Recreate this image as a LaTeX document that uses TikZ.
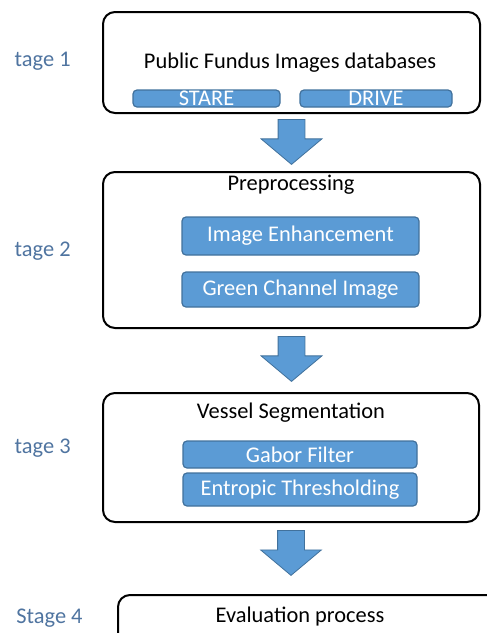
\documentclass[tikz,border=0pt]{standalone}
\usepackage{fontspec}
\setmainfont{Carlito}
\usetikzlibrary{positioning,shapes.arrows}
\definecolor{boxblue}{HTML}{5B9BD5}
\definecolor{boxedge}{HTML}{41719C}
\definecolor{stagegrey}{HTML}{4F74A0}

\begin{document}
\begin{tikzpicture}[x=0.5pt, y=-0.5pt,
    font=\fontsize{11.2}{13}\selectfont,
    stagebox/.style={draw, line width=1pt, rounded corners=6pt, minimum width=188.5pt},
    itembox/.style={draw=boxedge, line width=0.6pt, fill=boxblue, text=white, rounded corners=2pt, inner sep=0pt},
    stagelabel/.style={anchor=east, text=stagegrey, inner sep=1pt},
    bigarrow/.style={single arrow, draw=boxedge, line width=0.4pt, fill=boxblue, shape border rotate=270,
        minimum height=22.5pt, single arrow head extend=8.5pt,
        single arrow tip angle=100, inner sep=6.5pt}]
    \useasboundingbox (0,0) rectangle (487,633);
    \clip (0,0) rectangle (487,633);

    % Stage 1: databases
    \node[stagebox, minimum height=50.5pt] (box1) at (291.5,62.5) {};
    \node (title1) at (290,63) {Public Fundus Images databases};
    \node[itembox, minimum width=73.5pt, minimum height=8.5pt] (stare) at (206.5,98.5) {STARE};
    \node[itembox, minimum width=76pt, minimum height=8.5pt] (drive) at (376,98.5) {DRIVE};
    \node[stagelabel] (lab1) at (73,61) {tage 1};

    % Stage 2: preprocessing
    \node[stagebox, minimum height=78pt] (box2) at (291.5,250) {};
    \node (title2) at (291,185) {Preprocessing};
    \node[itembox, minimum width=118.5pt, minimum height=19pt] (enhance) at (300.5,236) {Image Enhancement};
    \node[itembox, minimum width=118.5pt, minimum height=17.5pt] (green) at (300.5,289.5) {Green Channel Image};
    \node[stagelabel] (lab2) at (73,251) {tage 2};

    % Stage 3: segmentation
    \node[stagebox, minimum width=188pt, minimum height=64.5pt] (box3) at (291,457.5) {};
    \node (title3) at (291,413) {Vessel Segmentation};
    \node[itembox, minimum width=117pt, minimum height=13.5pt] (gabor) at (300,454.5) {Gabor Filter};
    \node[itembox, minimum width=117pt, minimum height=16.5pt] (entropy) at (300,489.5) {Entropic Thresholding};
    \node[stagelabel] (lab3) at (73,448) {tage 3};

    % Stage 4: evaluation (cut off at the page edge)
    \node[stagebox, minimum width=212pt, minimum height=30pt] (box4) at (330,625) {};
    \node (title4) at (300,617) {Evaluation process};
    \node[stagelabel] (lab4) at (85,618) {Stage 4};

    % Block arrows between the stages
    \node[bigarrow, below=2.5pt of box1] (arr1) {};
    \node[bigarrow, below=3.5pt of box2] (arr2) {};
    \node[bigarrow, below=3.5pt of box3] (arr3) {};
\end{tikzpicture}
\end{document}
